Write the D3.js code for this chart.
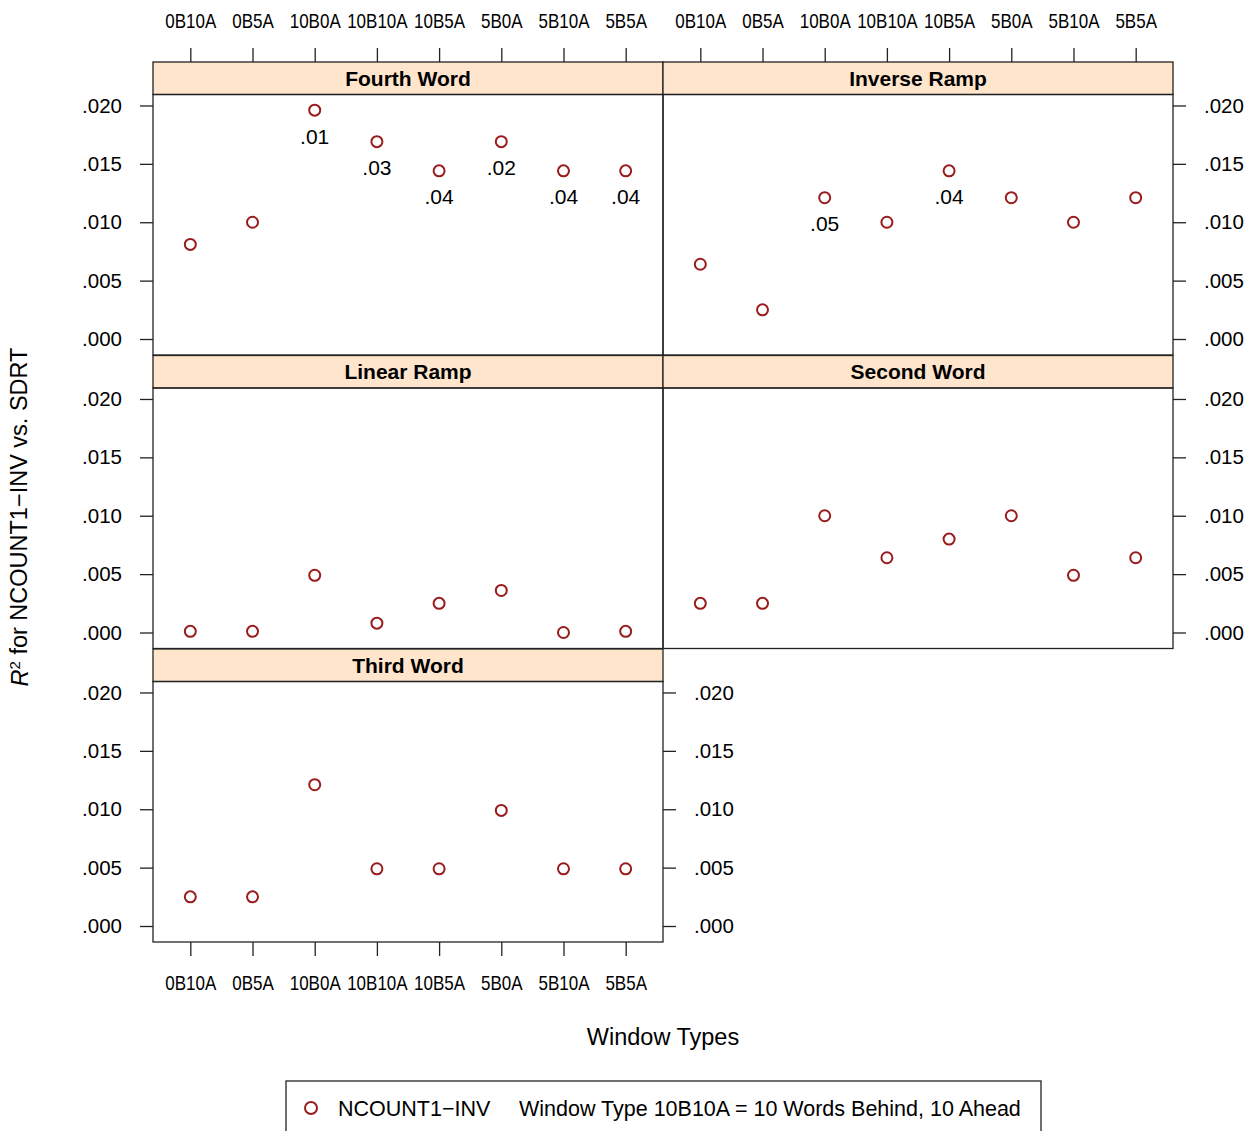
<!DOCTYPE html>
<html><head><meta charset="utf-8">
<script src="https://cdn.jsdelivr.net/npm/d3@7"></script>
<style>body{margin:0;background:#fff}svg{display:block}text{font-family:"Liberation Sans",Arial,sans-serif;fill:#000}</style>
</head><body>
<script>
const categories = ["0B10A","0B5A","10B0A","10B10A","10B5A","5B0A","5B10A","5B5A"];
const panelNames = ["Fourth Word","Inverse Ramp","Linear Ramp","Second Word","Third Word"];
const fourthWord  = [0.0081,0.0100,0.0196,0.0169,0.0144,0.0169,0.0144,0.0144];
const inverseRamp = [0.0064,0.0025,0.0121,0.0100,0.0144,0.0121,0.0100,0.0121];
const linearRamp  = [0.0001,0.0001,0.0049,0.0008,0.0025,0.0036,0.0000,0.0001];
const secondWord  = [0.0025,0.0025,0.0100,0.0064,0.0080,0.0100,0.0049,0.0064];
const thirdWord   = [0.0025,0.0025,0.0121,0.0049,0.0049,0.0099,0.0049,0.0049];
const fourthLabels  = ["","",".01",".03",".04",".02",".04",".04"];
const inverseLabels = ["","",".05","",".04","","",""];
const emptyLabels   = ["","","","","","","",""];
const yTicks = [0,0.005,0.010,0.015,0.020];
const yDomain = [-0.00137,0.02094];
const xTitle = "Window Types";
const seriesName = "NCOUNT1\u2212INV";
const legendNote = "Window Type 10B10A = 10 Words Behind, 10 Ahead";

const panels = [
  {name:panelNames[0], values:fourthWord, labels:fourthLabels, col:0, row:0},
  {name:panelNames[1], values:inverseRamp, labels:inverseLabels, col:1, row:0},
  {name:panelNames[2], values:linearRamp, labels:emptyLabels, col:0, row:1},
  {name:panelNames[3], values:secondWord, labels:emptyLabels, col:1, row:1},
  {name:panelNames[4], values:thirdWord, labels:emptyLabels, col:0, row:2}
];

const W=1259,H=1131;
const colX=[153,663], panelW=510;
const rowTop=[62,355.5,649], stripH=32.5, plotH=260.5;
const red="#9a1b1b", strip="#FFE5CC", border="#222";
const svg=d3.select("body").append("svg").attr("width",W).attr("height",H);
const fmt=d=>d3.format(".3f")(d).replace(/^0/,"");

panels.forEach(p=>{
  const x0=colX[p.col], y0=rowTop[p.row];
  const top=y0+stripH, bottom=top+plotH;
  const x=d3.scalePoint().domain(categories).range([x0,x0+panelW]).padding(0.6);
  const y=d3.scaleLinear().domain(yDomain).range([bottom,top]);
  const g=svg.append("g");
  g.append("rect").attr("x",x0).attr("y",y0).attr("width",panelW).attr("height",stripH)
    .attr("fill",strip).attr("stroke",border).attr("stroke-width",1.3);
  g.append("text").attr("x",x0+panelW/2).attr("y",y0+stripH/2).attr("dy","0.36em")
    .attr("text-anchor","middle").attr("font-weight","bold").attr("font-size",21).text(p.name);
  g.append("rect").attr("x",x0).attr("y",top).attr("width",panelW).attr("height",plotH)
    .attr("fill","none").attr("stroke",border).attr("stroke-width",1.3);
  const tickSize=13;
  if(p.col===0){
    const ax=g.append("g").attr("transform",`translate(${x0},0)`).call(d3.axisLeft(y).tickValues(yTicks).tickSize(tickSize).tickPadding(18).tickFormat(fmt));
    styleAxis(ax,20.5);
  }
  if(p.col===1 || p.name==="Third Word"){
    const ax=g.append("g").attr("transform",`translate(${x0+panelW},0)`).call(d3.axisRight(y).tickValues(yTicks).tickSize(tickSize).tickPadding(18).tickFormat(fmt));
    styleAxis(ax,20.5);
  }
  if(p.row===0){
    const ax=g.append("g").attr("transform",`translate(0,${y0})`).call(d3.axisTop(x).tickSize(14).tickPadding(20));
    styleAxis(ax,20,true);
  }
  if(p.row===2){
    const ax=g.append("g").attr("transform",`translate(0,${bottom})`).call(d3.axisBottom(x).tickSize(14).tickPadding(20));
    styleAxis(ax,20,true);
  }
  g.selectAll("circle.pt").data(categories).enter().append("circle").attr("class","pt")
    .attr("cx",c=>x(c)).attr("cy",(c,i)=>y(p.values[i])).attr("r",5.5)
    .attr("fill","none").attr("stroke",red).attr("stroke-width",2);
  g.selectAll("text.lab").data(categories.filter((c,i)=>p.labels[i]!=="")).enter().append("text").attr("class","lab")
    .attr("x",c=>x(c)).attr("y",c=>y(p.values[categories.indexOf(c)])+26).attr("dy","0.36em")
    .attr("text-anchor","middle").attr("font-size",21).text(c=>p.labels[categories.indexOf(c)]);
});

function styleAxis(ax,fs,condensed){
  ax.select(".domain").remove();
  ax.selectAll(".tick line").attr("stroke","#222").attr("stroke-width",1.3);
  const t=ax.selectAll(".tick text").attr("font-size",fs).attr("fill","#000")
    .attr("font-family",'"Liberation Sans",Arial,sans-serif');
  if(condensed) t.attr("transform","scale(0.85,1)");
}

svg.append("text").attr("x",663).attr("y",1037).attr("dy","0.36em").attr("text-anchor","middle")
  .attr("font-size",23.5).text(xTitle);
const yl=svg.append("text").attr("transform","translate(20,517) rotate(-90)").attr("text-anchor","middle")
  .attr("dy","0.36em").attr("font-size",23.5);
yl.append("tspan").attr("font-style","italic").text("R");
yl.append("tspan").attr("font-size",15).attr("dy","-0.55em").text("2");
yl.append("tspan").attr("dy","0.3em").text(" for NCOUNT1\u2212INV vs. SDRT");

const lg=svg.append("g");
lg.append("rect").attr("x",286).attr("y",1081).attr("width",755).attr("height",70)
  .attr("fill","none").attr("stroke","#222").attr("stroke-width",1.3);
lg.append("circle").attr("cx",311).attr("cy",1108).attr("r",6).attr("fill","none").attr("stroke",red).attr("stroke-width",2);
lg.append("text").attr("x",338).attr("y",1108).attr("dy","0.36em").attr("font-size",21.5).text(seriesName);
lg.append("text").attr("x",519).attr("y",1108).attr("dy","0.36em").attr("font-size",21.5).text(legendNote);
</script>
</body></html>
